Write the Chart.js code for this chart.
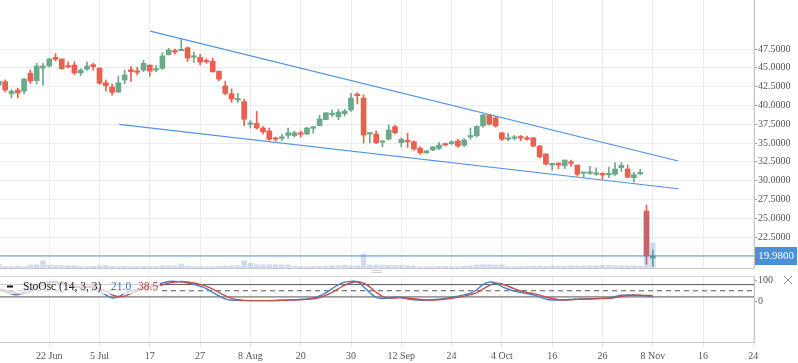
<!DOCTYPE html>
<html>
<head>
<meta charset="utf-8">
<script src="https://cdn.jsdelivr.net/npm/chart.js@4.4.1/dist/chart.umd.min.js"></script>
<style>
    html, body { margin: 0; padding: 0; background: #fff; width: 798px; height: 363px; overflow: hidden; }
    #main { position: absolute; left: 0; top: 0; }
    #osc  { position: absolute; left: 0; top: 270px; }
</style>
</head>
<body>
<canvas id="main" width="798" height="270"></canvas>
<canvas id="osc" width="798" height="93"></canvas>
<script>
// ─── DONNÉES ──────────────────────────────────────────────────────────────
const opens  = [42.7, 43.15, 41.55, 42.05, 41.9, 44.27, 43.3, 44.97, 45.24, 46.4,
                46.17, 45.24, 45.37, 44.3, 44.84, 45.41, 44.97, 43.02, 42.45, 41.78,
                43.38, 44.75, 44.6, 44.7, 45.37, 44.7, 44.93, 46.74, 47.24, 47.27,
                47.67, 46.4, 46.4, 46.0, 45.9, 44.53, 42.58, 41.56, 40.72, 40.5,
                37.5, 37.6, 37.0, 36.6, 35.7, 35.63, 36.02, 35.98, 36.3, 36.2,
                36.96, 37.3, 38.1, 38.77, 38.5, 38.9, 39.39, 41.48, 40.98, 36.2,
                36.2, 35.1, 35.5, 37.17, 35.05, 35.3, 35.17, 34.3, 33.7, 34.07,
                34.3, 34.9, 34.9, 35.27, 34.7, 35.8, 35.97, 37.3, 38.72, 38.36,
                36.37, 35.5, 35.63, 35.8, 35.7, 35.7, 34.6, 33.54, 32.07, 32.34,
                31.98, 32.47, 32.07, 30.97, 30.97, 30.84, 30.97, 30.78, 30.84, 31.72,
                31.54, 30.4, 30.9, 25.96, 19.7];
const highs  = [43.9, 43.4, 42.1, 42.3, 43.6, 44.7, 45.6, 45.6, 46.3, 46.9,
                46.2, 45.8, 45.8, 44.9, 45.77, 45.6, 44.97, 43.38, 42.85, 43.9,
                44.7, 45.2, 45.1, 46.0, 45.37, 45.3, 47.0, 47.6, 47.5, 48.8,
                47.8, 47.1, 46.8, 46.2, 46.3, 44.6, 43.2, 42.2, 41.6, 40.85,
                38.0, 39.2, 37.2, 37.0, 35.8, 36.2, 37.0, 36.6, 36.6, 37.1,
                37.2, 38.7, 39.03, 39.4, 39.5, 39.5, 41.6, 41.7, 41.4, 36.35,
                36.6, 35.3, 37.4, 37.4, 35.7, 36.3, 35.3, 34.5, 34.0, 34.5,
                35.1, 35.0, 35.3, 35.5, 35.6, 37.0, 37.3, 38.8, 38.8, 38.5,
                36.37, 36.3, 36.0, 36.0, 35.93, 35.75, 34.7, 33.6, 32.3, 32.34,
                32.74, 32.74, 32.07, 31.1, 31.9, 31.7, 31.04, 31.8, 32.4, 32.4,
                32.07, 31.1, 31.5, 26.76, 20.77];
const lows   = [41.9, 41.8, 41.0, 41.0, 41.55, 42.9, 42.85, 42.7, 45.1, 45.9,
                44.8, 45.0, 44.1, 43.95, 44.67, 44.7, 42.8, 41.9, 41.38, 41.7,
                42.9, 43.2, 44.06, 44.5, 43.9, 44.5, 44.8, 46.7, 46.8, 47.27,
                45.84, 45.7, 45.4, 45.6, 44.4, 43.3, 41.4, 40.4, 40.4, 37.3,
                37.0, 36.85, 36.2, 35.35, 35.27, 35.3, 35.6, 35.8, 35.8, 36.1,
                36.3, 37.27, 38.1, 38.5, 38.1, 38.6, 39.2, 40.2, 35.0, 35.0,
                34.9, 34.5, 35.4, 36.2, 34.5, 34.4, 34.0, 33.5, 33.6, 34.0,
                34.1, 34.6, 34.8, 34.4, 34.5, 35.5, 35.8, 37.07, 37.4, 37.1,
                35.3, 35.3, 35.4, 35.3, 35.37, 34.5, 33.0, 32.06, 31.4, 31.6,
                31.6, 31.9, 30.6, 30.4, 30.84, 30.7, 30.2, 30.4, 30.7, 31.2,
                30.4, 29.8, 30.77, 18.9, 18.64];
const closes = [43.2, 42.05, 41.9, 41.65, 43.5, 43.24, 45.24, 45.24, 46.17, 46.13,
                44.88, 45.1, 44.3, 44.7, 45.24, 45.15, 42.94, 42.62, 41.74, 43.02,
                44.04, 44.48, 44.4, 45.6, 44.57, 44.84, 46.57, 47.37, 47.1, 47.4,
                46.3, 46.6, 45.77, 45.8, 44.48, 43.5, 41.6, 40.85, 40.85, 38.15,
                37.66, 37.0, 36.5, 35.5, 35.5, 35.76, 36.37, 36.37, 36.16, 37.0,
                37.17, 38.2, 39.03, 38.95, 39.12, 39.25, 40.98, 41.3, 36.06, 36.3,
                35.05, 35.27, 36.73, 36.37, 35.5, 35.17, 34.2, 33.7, 33.97, 34.5,
                34.73, 34.73, 35.17, 34.6, 35.4, 35.93, 37.2, 38.72, 37.5, 37.26,
                35.5, 35.7, 35.77, 35.67, 35.5, 34.6, 33.17, 32.2, 32.3, 32.07,
                32.74, 32.3, 30.84, 31.1, 31.18, 30.97, 30.74, 30.97, 31.54, 32.03,
                30.44, 30.8, 31.05, 20.0, 19.98];
// volume, en milliers
const volumes = [40, 15, 15, 20, 15, 30, 33, 73, 27, 27,
                 23, 23, 23, 13, 13, 17, 23, 27, 17, 13,
                 17, 13, 13, 17, 13, 17, 23, 23, 23, 40,
                 17, 13, 13, 13, 13, 17, 20, 23, 23, 73,
                 47, 33, 33, 33, 33, 30, 30, 17, 13, 13,
                 17, 17, 20, 23, 23, 27, 20, 23, 140, 30,
                 30, 30, 27, 27, 23, 23, 20, 13, 13, 13,
                 17, 17, 13, 13, 20, 23, 30, 33, 33, 30,
                 33, 13, 13, 13, 17, 20, 20, 17, 20, 20,
                 20, 23, 20, 23, 23, 23, 27, 27, 23, 23,
                 23, 23, 20, 550, 250];
const stochK = [55, 45, 35, 30, 45, 60, 80, 88, 95, 92,
                80, 75, 68, 65, 70, 68, 45, 30, 15, 20,
                38, 50, 58, 68, 72, 78, 88, 95, 96, 94,
                88, 82, 72, 60, 42, 25, 10, 4, 3, 2,
                2, 2, 2, 2, 3, 4, 5, 6, 8, 10,
                15, 25, 40, 60, 80, 92, 96, 94, 70, 40,
                18, 12, 14, 20, 16, 10, 6, 4, 4, 6,
                9, 13, 18, 24, 30, 38, 55, 80, 92, 88,
                70, 58, 48, 42, 36, 30, 20, 10, 5, 5,
                6, 8, 9, 10, 11, 12, 13, 15, 22, 28,
                30, 28, 27, 25, 21];
const stochD = [58, 52, 45, 37, 37, 45, 62, 76, 88, 92,
                89, 82, 74, 69, 68, 68, 61, 48, 30, 22,
                24, 36, 49, 59, 66, 73, 79, 87, 93, 95,
                93, 88, 81, 71, 58, 42, 26, 13, 6, 3,
                2, 2, 2, 2, 2, 3, 4, 5, 6, 8,
                11, 17, 27, 42, 60, 77, 89, 94, 87, 68,
                43, 23, 15, 15, 17, 15, 11, 7, 5, 5,
                6, 9, 13, 18, 24, 31, 41, 58, 76, 87,
                83, 72, 59, 49, 42, 36, 29, 20, 12, 7,
                5, 6, 8, 9, 10, 11, 12, 13, 17, 22,
                27, 29, 28, 27, 26];

const tickIdx    = [8, 16, 24, 32, 40, 48, 56, 64, 72, 80, 88, 96, 104, 112, 120];
const tickLabels = ['22 Jun', '5 Jul', '17', '27', '8 Aug', '20', '30', '12 Sep',
                    '24', '4 Oct', '16', '26', '8 Nov', '16', '24'];
const priceTicks = [22.5, 25, 27.5, 30, 32.5, 35, 37.5, 40, 42.5, 45, 47.5];
const oscTicks   = [0, 100];
const oscLevels  = [80, 50, 20];

// canal baissier
const upperX = [24.06, 108.04], upperY = [49.89, 32.61];
const lowerX = [19.13, 108.04], lowerY = [37.49, 28.92];

const lastPrice  = 19.98;
const oscName    = 'StoOsc (14, 3, 3)';
const oscLast    = ['21.0', '38.5'];

// ─── RÉGLAGES ─────────────────────────────────────────────────────────────
const XMIN = 0.17, XMAX = 120.1;
const GREEN = '#6aa98a', RED = '#ea5f4f';
const BLUE_LINE = '#4f94e6';
const SERIF = "'Liberation Serif', 'DejaVu Serif', serif";

const idx = opens.map((_, i) => i);
const candleColors = idx.map(i => closes[i] >= opens[i] ? GREEN : RED);
const xy = (xs, ys) => xs.map((x, k) => ({ x, y: ys[k] }));

const fixTicks = list => axis => { axis.ticks = list.map(v => ({ value: v })); };

// ─── GRAPHIQUE PRINCIPAL ──────────────────────────────────────────────────
const priceTag = {
    id: 'priceTag',
    afterDraw(chart) {
        const { ctx, chartArea, scales } = chart;
        const y = scales.y.getPixelForValue(lastPrice);
        ctx.save();
        ctx.fillStyle = '#4a8fd8';
        ctx.fillRect(chartArea.right + 1, Math.round(y) - 9, 42, 18);
        ctx.fillStyle = '#fff';
        ctx.font = '11px ' + SERIF;
        ctx.textAlign = 'center';
        ctx.textBaseline = 'middle';
        ctx.fillText(lastPrice.toFixed(4), chartArea.right + 22, Math.round(y) + 0.5);
        ctx.restore();
    }
};

new Chart(document.getElementById('main'), {
    type: 'bar',
    data: {
        datasets: [
            {
                type: 'bar', data: xy(idx, volumes), yAxisID: 'vol',
                backgroundColor: 'rgba(70, 120, 190, 0.25)', barThickness: 5,
                grouped: false, order: 0
            },
            {
                type: 'bar', data: idx.map(i => ({ x: i, y: [opens[i], closes[i]] })),
                backgroundColor: candleColors, barThickness: 5, minBarLength: 1.5,
                grouped: false, order: 1
            },
            {
                type: 'bar', data: idx.map(i => ({ x: i, y: [lows[i], highs[i]] })),
                backgroundColor: candleColors, barThickness: 1,
                grouped: false, order: 2
            },
            {
                type: 'line', data: xy(upperX, upperY), borderColor: BLUE_LINE,
                borderWidth: 1.2, pointRadius: 0, order: 3
            },
            {
                type: 'line', data: xy(lowerX, lowerY), borderColor: BLUE_LINE,
                borderWidth: 1.2, pointRadius: 0, order: 3
            },
            {
                type: 'line', data: xy([XMIN, XMAX], [lastPrice, lastPrice]),
                borderColor: '#4a8fd8', borderWidth: 1, pointRadius: 0, order: 0
            }
        ]
    },
    options: {
        responsive: false,
        animation: false,
        layout: { padding: 0 },
        plugins: { legend: { display: false }, tooltip: { enabled: false } },
        scales: {
            x: {
                type: 'linear', min: XMIN, max: XMAX, offset: false,
                afterBuildTicks: fixTicks(tickIdx),
                afterFit: a => { a.height = 2; a.paddingLeft = 0; a.paddingRight = 0; },
                ticks: { display: false },
                grid: { color: '#ececec', drawTicks: false, offset: false },
                border: { color: '#c8c8c8' }
            },
            y: {
                type: 'linear', position: 'right', min: 18.38, max: 54.02,
                afterBuildTicks: fixTicks(priceTicks),
                afterFit: a => { a.width = 44; a.paddingTop = 0; a.paddingBottom = 0; },
                ticks: {
                    callback: v => v.toFixed(4), color: '#555', padding: 1,
                    font: { size: 10, family: SERIF }
                },
                grid: { color: '#ececec', tickLength: 3, tickColor: '#999' },
                border: { color: '#c8c8c8' }
            },
            vol: { type: 'linear', display: false, min: 0, max: 2680 }
        }
    },
    plugins: [priceTag]
});

// ─── OSCILLATEUR STOCHASTIQUE ─────────────────────────────────────────────
const oscDecor = {
    id: 'oscDecor',
    beforeDatasetsDraw(chart) {
        const { ctx, chartArea } = chart;
        ctx.save();
        ctx.strokeStyle = '#d8d8d8';
        ctx.lineWidth = 1;
        ctx.beginPath();
        ctx.moveTo(0, chartArea.top + 0.5);
        ctx.lineTo(chartArea.right, chartArea.top + 0.5);
        ctx.stroke();
        // poignée
        ctx.strokeStyle = '#cfcfcf';
        for (const dy of [0.5, 2.5]) {
            ctx.beginPath();
            ctx.moveTo(372, dy);
            ctx.lineTo(382, dy);
            ctx.stroke();
        }
        ctx.restore();
    },
    afterDatasetsDraw(chart) {
        const { ctx, chartArea } = chart;
        ctx.save();
        ctx.fillStyle = 'rgba(255, 255, 255, 0.7)';
        ctx.fillRect(0, 9, 160, 15);
        ctx.fillStyle = '#111';
        ctx.fillRect(7, 15.5, 6, 2);
        ctx.font = '11.5px ' + SERIF;
        ctx.textBaseline = 'middle';
        ctx.fillStyle = '#222';
        ctx.fillText(oscName, 23, 17);
        ctx.fillStyle = '#3f74b8';
        ctx.fillText(oscLast[0], 111, 17);
        ctx.fillStyle = '#b8423e';
        ctx.fillText(oscLast[1], 138, 17);
        // fermer
        ctx.strokeStyle = '#888';
        ctx.lineWidth = 1;
        ctx.beginPath();
        ctx.moveTo(784, 6); ctx.lineTo(792, 14);
        ctx.moveTo(792, 6); ctx.lineTo(784, 14);
        ctx.stroke();
        ctx.restore();
    }
};

const levelSets = oscLevels.map((lv, k) => ({
    data: xy([XMIN, XMAX], [lv, lv]),
    borderColor: '#555', borderWidth: 1, pointRadius: 0,
    borderDash: k === 1 ? [5, 4] : [], order: 5
}));

new Chart(document.getElementById('osc'), {
    type: 'line',
    data: {
        datasets: [
            ...levelSets,
            {
                data: xy(idx, stochK), borderColor: '#4a7fc4', borderWidth: 1.4,
                pointRadius: 0, tension: 0.35, order: 2
            },
            {
                data: xy(idx, stochD), borderColor: '#c0504d', borderWidth: 1.4,
                pointRadius: 0, tension: 0.35, order: 1
            }
        ]
    },
    options: {
        responsive: false,
        animation: false,
        layout: { padding: { top: 6, left: 0, right: 0, bottom: 0 } },
        plugins: { legend: { display: false }, tooltip: { enabled: false } },
        scales: {
            x: {
                type: 'linear', min: XMIN, max: XMAX,
                afterBuildTicks: fixTicks(tickIdx),
                afterFit: a => { a.height = 21; a.paddingLeft = 0; a.paddingRight = 0; },
                ticks: {
                    callback: v => tickLabels[tickIdx.indexOf(v)] ?? '',
                    color: '#555', padding: 3, maxRotation: 0, autoSkip: false,
                    font: { size: 10, family: SERIF }
                },
                grid: { color: '#ececec', tickLength: 5, tickColor: '#e4e4e4' },
                border: { color: '#c8c8c8' }
            },
            y: {
                type: 'linear', position: 'right', min: -200, max: 122,
                afterBuildTicks: fixTicks(oscTicks),
                afterFit: a => { a.width = 44; a.paddingTop = 0; a.paddingBottom = 0; },
                ticks: { color: '#555', padding: 1, font: { size: 10, family: SERIF } },
                grid: { drawOnChartArea: false, tickLength: 3, tickColor: '#999' },
                border: { color: '#c8c8c8' }
            }
        }
    },
    plugins: [oscDecor]
});
</script>
</body>
</html>
